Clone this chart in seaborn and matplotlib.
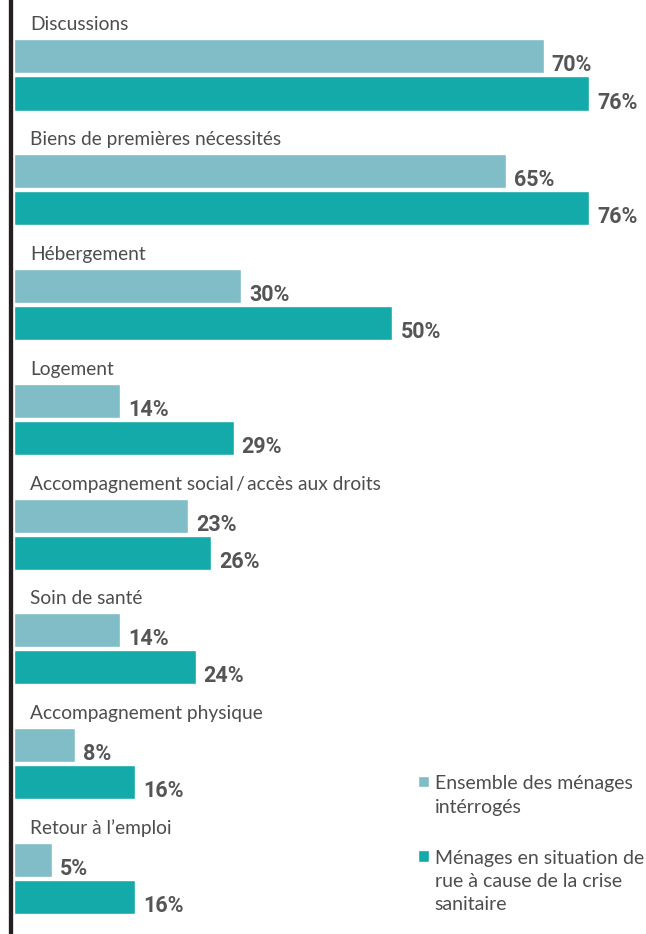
import matplotlib
matplotlib.use("Agg")
import matplotlib.pyplot as plt
import seaborn as sns
import pandas as pd

categories = ["Discussions", "Biens de premières nécessités", "Hébergement", "Logement",
              "Accompagnement social\u2009/\u2009accès aux droits", "Soin de santé",
              "Accompagnement physique", "Retour à l’emploi"]
ensemble = [70, 65, 30, 14, 23, 14, 8, 5]
rue = [76, 76, 50, 29, 26, 24, 16, 16]
series = ["Ensemble des ménages\nintérrogés",
          "Ménages en situation de\nrue à cause de la crise\nsanitaire"]
colors = ["#80bdc6", "#14aaaa"]

df = pd.DataFrame({
    "categorie": categories * 2,
    "valeur": ensemble + rue,
    "serie": [series[0]] * len(categories) + [series[1]] * len(categories),
})

sns.set_style("white")
plt.rcParams["font.family"] = ["Lato", "DejaVu Sans"]

fig = plt.figure(figsize=(6.46, 9.34), dpi=100)
ax = fig.add_axes([11 / 646, 0, 635 / 646, 1])
sns.barplot(data=df, x="valeur", y="categorie", hue="serie", palette=colors,
            orient="h", width=0.645, gap=0.08, saturation=1, ax=ax)

ax.set_ylim(7.483, -0.653)
ax.set_xlim(-0.4, 83.5)
ax.set_xlabel("")
ax.set_ylabel("")
ax.set_xticks([])
ax.set_yticks([])
for side in ["top", "right", "bottom"]:
    ax.spines[side].set_visible(False)
ax.spines["left"].set_linewidth(3.1)
ax.spines["left"].set_color("#231f20")

# titres des catégories au-dessus des barres
for i, cat in enumerate(categories):
    ax.annotate(cat, xy=(0, i), xytext=(16, 50), textcoords="offset pixels",
                va="center", ha="left", fontsize=13.8, color="#4d4d4d")

# étiquettes de valeurs
for container, vals in zip(ax.containers, [ensemble, rue]):
    for bar, v in zip(container, vals):
        ax.annotate(f"{v}%", xy=(bar.get_x() + bar.get_width(), bar.get_y() + bar.get_height()),
                    xytext=(8, 8), textcoords="offset pixels", va="center", ha="left",
                    fontsize=15.5, fontweight="bold", color="#555555", family="Roboto")

leg = ax.legend(loc="upper left", bbox_to_anchor=(418 / 646, 1 - 775.5 / 934),
                bbox_transform=fig.transFigure, frameon=False, fontsize=14,
                handlelength=0.55, handleheight=0.55, handletextpad=0.3,
                labelspacing=1.75, borderpad=0, borderaxespad=0, labelcolor="#4d4d4d")
for t in leg.get_texts():
    t.set_linespacing(1.45)
for col in leg._legend_handle_box.get_children():
    for item in col.get_children():
        item.align = "top"

fig.savefig("out.png", dpi=100)
